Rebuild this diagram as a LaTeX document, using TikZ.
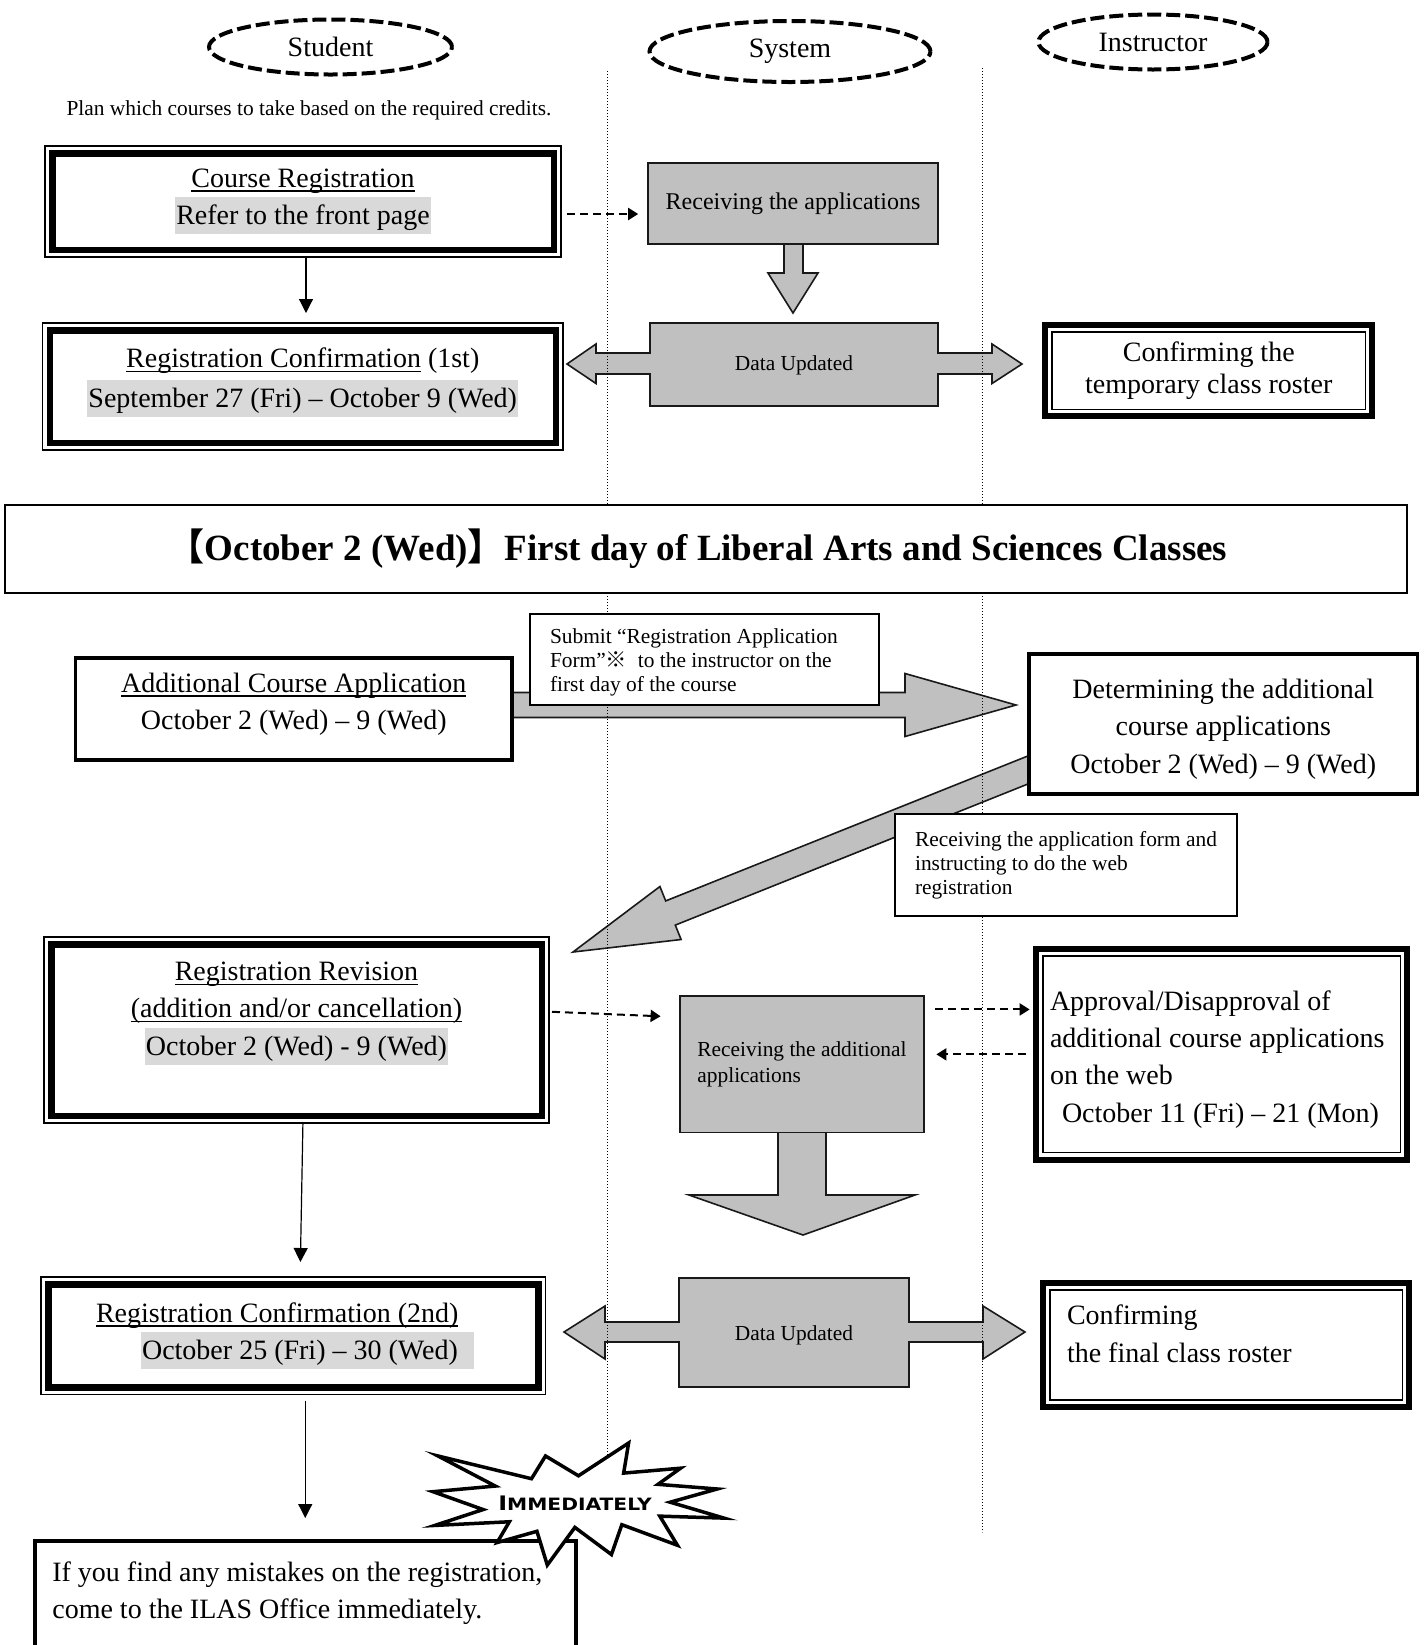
\documentclass[tikz,border=0pt]{standalone}
\usepackage{fontspec}
\setmainfont{Liberation Serif}
\newfontfamily\cjkfont{Noto Sans CJK JP}
\newfontfamily\burstfont{DejaVu Sans}
\usepackage{graphicx}
\usetikzlibrary{shapes.geometric, arrows.meta}

\definecolor{sysgray}{RGB}{192,192,192}
\definecolor{hlgray}{RGB}{217,217,217}

\newcommand{\boxfont}{\fontsize{14}{18.6}\selectfont}
\newcommand{\smallfont}{\fontsize{10.7}{12}\selectfont}
\newcommand{\uln}[1]{\leavevmode\setbox0\hbox{#1}\rlap{\rule[-2.3pt]{\wd0}{0.7pt}}\box0\relax}
\newcommand{\hlbox}[1]{{\setlength{\fboxsep}{0.5pt}\colorbox{hlgray}{\rule[-4.5pt]{0pt}{17.5pt}#1}}}
\newcommand{\deepstrut}[1]{\rule[-#1]{0pt}{0pt}}
\newcommand{\tallstrut}[1]{\rule{0pt}{#1}}
\newcommand{\thinframe}[1]{\draw[line width=0.75pt] ([shift={(-2pt,2pt)}]#1.north west) rectangle ([shift={(2pt,-2pt)}]#1.south east);}
\newcommand{\thickframe}[1]{\draw[line width=3pt] ([shift={(-3.1pt,3.1pt)}]#1.north west) rectangle ([shift={(3.1pt,-3.1pt)}]#1.south east);}

\tikzset{
  lane/.style={line width=0.5pt, dash pattern=on 0.6pt off 0.9pt},
  actor/.style={ellipse, draw, line width=2pt, dash pattern=on 7pt off 2.5pt, font=\boxfont, inner sep=0pt},
  stepthick/.style={rectangle, draw, line width=3.25pt, fill=white, align=center, font=\boxfont, inner sep=2pt},
  stepthin/.style={rectangle, draw, line width=0.75pt, fill=white, align=center, font=\boxfont, inner sep=2pt},
  stepbold/.style={rectangle, draw, line width=1.75pt, fill=white, align=center, font=\boxfont, inner sep=2pt},
  sysbox/.style={rectangle, draw=black!90, line width=0.8pt, fill=sysgray, inner sep=2pt},
  note/.style={rectangle, draw, line width=0.6pt, fill=white, align=left, font=\smallfont},
  blockarrow/.style={draw=black!90, line width=0.8pt, fill=sysgray, line join=miter},
  flow/.style={-{Triangle[width=7pt,length=7pt]}, line width=0.6pt},
  dflow/.style={-{Triangle[width=6pt,length=5pt]}, line width=1pt, dash pattern=on 4pt off 2.5pt}
}

\begin{document}
\begin{tikzpicture}[x=0.5pt, y=-0.5pt]
    %Rahmen
    \path[use as bounding box, fill=white] (0,0) rectangle (1426,1645);

    %Blockpfeile
    \draw[blockarrow] (784,238) -- (784,273) -- (768,273) -- (793,313) -- (818,273) -- (803,273) -- (803,238) -- cycle;
    \draw[blockarrow] (650,323) -- (938,323) -- (938,353) -- (992,353) -- (992,344) -- (1022,364) -- (992,383.5) -- (992,374) -- (938,374) -- (938,406)
        -- (650,406) -- (650,374) -- (596,374) -- (596,383.5) -- (567,364) -- (596,344) -- (596,353) -- (650,353) -- cycle;
    \draw[blockarrow] (505,692.5) -- (905,692.5) -- (905,673.5) -- (1016,705) -- (905,736.5) -- (905,717.5) -- (505,717.5) -- cycle;
    \draw[blockarrow] (1037,752.3) -- (665.7,900.9) -- (659.9,886.5) -- (573,952) -- (681.1,939.5) -- (675.3,925.1) -- (1046.6,776.5) -- cycle;
    \draw[blockarrow] (778,1126) -- (778,1195) -- (689,1195) -- (803,1235) -- (915,1195) -- (826,1195) -- (826,1126) -- cycle;
    \draw[blockarrow] (679,1278) -- (909,1278) -- (909,1322) -- (983,1322) -- (983,1306) -- (1025,1332) -- (983,1359) -- (983,1342) -- (909,1342) -- (909,1387)
        -- (679,1387) -- (679,1342) -- (605,1342) -- (605,1359) -- (564,1332) -- (605,1306) -- (605,1322) -- (679,1322) -- cycle;

    %Bahnen
    \draw[lane] (607.5,71) -- (607.5,1460);
    \draw[lane] (982,68) -- (982,1532);

    %Akteure
    \node[actor, minimum width=121.5pt, minimum height=27.5pt] (student) at (330.5,47) {Student};
    \node[actor, minimum width=140.5pt, minimum height=30.5pt] (system) at (790,51.5) {System};
    \node[actor, minimum width=114.5pt, minimum height=27.5pt] (instructor) at (1153,42) {Instructor};
    \node[font=\smallfont] (plan) at (309,110) {Plan which courses to take based on the required credits.};

    %Student
    \node[stepthick, minimum width=250.75pt, minimum height=48.25pt] (creg) at (303,201.5)
        {\uln{Course Registration}\\\hlbox{Refer to the front page}};
    \thinframe{creg}
    \node[stepthick, minimum width=253pt, minimum height=56.25pt] (conf1) at (302.75,386.5)
        {\uln{Registration Confirmation} (1st)\\[1.4pt]\hlbox{September 27 (Fri) – October 9 (Wed)}\deepstrut{8.9pt}};
    \thinframe{conf1}
    \node[stepbold, minimum width=218.25pt, minimum height=51pt] (addl) at (293.75,709)
        {\uln{Additional Course Application}\\October 2 (Wed) – 9 (Wed)\deepstrut{7.9pt}};
    \node[stepthick, minimum width=245.25pt, minimum height=85.75pt] (rev) at (296.5,1030)
        {\uln{Registration Revision}\\\uln{(addition and/or cancellation)}\\\hlbox{October 2 (Wed) - 9 (Wed)}\deepstrut{21.4pt}};
    \thinframe{rev}
    \node[stepthick, minimum width=245pt, minimum height=51.5pt] (conf2) at (293.25,1335.75)
        {\uln{Registration Confirmation (2nd)}\hspace*{16pt}\null\\\null\hspace*{14.2pt}\hlbox{October 25 (Fri) – 30 (Wed)\hspace*{7.5pt}}};
    \thinframe{conf2}
    \node[rectangle, draw, line width=2pt, fill=white, font=\boxfont, align=flush left, text width=252.9pt, inner xsep=8.9pt,
        minimum width=270.75pt, minimum height=79.5pt] (office) at (305.25,1620.5)
        {If you find any mistakes on the registration,\\come to the ILAS Office immediately.\deepstrut{30pt}};

    %System
    \node[sysbox, font=\fontsize{12}{14}\selectfont, minimum width=145pt, minimum height=40.65pt] (recv) at (793,203.35) {Receiving the applications};
    \node[sysbox, font=\smallfont, align=left, minimum width=122pt, minimum height=68.25pt] (recvadd) at (802,1064.25)
        {Receiving the additional\\[0.8pt]applications};
    \node[font=\smallfont] (upd1) at (794,365) {Data Updated};
    \node[font=\smallfont] (upd2) at (794,1335) {Data Updated};

    %Erster Vorlesungstag
    \node[rectangle, draw, line width=0.75pt, fill=white, minimum width=701pt, minimum height=44pt,
        font=\fontsize{18.5}{22}\selectfont\bfseries] (firstday) at (706,549)
        {{\cjkfont 【}October 2 (Wed){\cjkfont 】}First day of Liberal Arts and Sciences Classes\hspace*{8.4pt}\null};

    %Hinweise
    \node[note, align=flush left, text width=154.5pt, inner xsep=10pt, minimum width=174.5pt, minimum height=45.5pt] (submit) at (704.5,659.5)
        {\tallstrut{10.5pt}Submit “Registration Application\\Form”{\cjkfont ※}\ \ to the instructor on the\\first day of the course};
    \node[note, inner xsep=0pt, minimum width=171pt, minimum height=51pt] (recvform) at (1066,865)
        {Receiving the application form and\\instructing to do the web\\registration};

    %Instructor
    \node[stepthin, minimum width=156.75pt, minimum height=38.75pt] (tmp) at (1208.75,370.75)
        {Confirming the\\[-2.3pt]temporary class roster};
    \thickframe{tmp}
    \node[stepbold, minimum width=194.25pt, minimum height=70pt] (det) at (1223.25,724)
        {\tallstrut{14.8pt}Determining the additional\\course applications\\October 2 (Wed) – 9 (Wed)};
    \node[stepthin, align=flush left, text width=171.75pt, inner xsep=3.5pt, minimum width=178.75pt, minimum height=98.35pt] (appr) at (1221.75,1054.35)
        {\tallstrut{14.9pt}Approval/Disapproval of\\additional course applications\\on the web\\\hspace*{6pt}October 11 (Fri) – 21 (Mon)};
    \thickframe{appr}
    \node[stepthin, align=flush left, text width=159.25pt, inner xsep=8.5pt, minimum width=176.25pt, minimum height=55pt] (fin) at (1226.25,1345)
        {Confirming\\the final class roster\deepstrut{11.4pt}};
    \thickframe{fin}

    %Verbindungen
    \draw[flow, shorten <=2pt, shorten >=7pt] ([xshift=1.5pt]creg.south) -- ([xshift=1.5pt]creg.south |- conf1.north);
    \draw[flow, shorten <=2pt, shorten >=9.5pt] ([xshift=3.25pt]rev.south) -- ([xshift=3.4pt]conf2.north);
    \draw[flow, shorten <=5pt, shorten >=10.5pt] (conf2.south -| office.north) -- (office.north);
    \draw[dflow, shorten <=5pt, shorten >=4.5pt] ([yshift=-6.25pt]creg.east) -- ([yshift=-6.25pt]creg.east -| recv.west);
    \draw[dflow, shorten <=3.5pt, shorten >=9.3pt] ([yshift=9.25pt]rev.east) -- ([yshift=23.6pt]recvadd.west);
    \draw[dflow, shorten <=5pt, shorten >=6.3pt] ([yshift=27.4pt]recvadd.east) -- ([yshift=27.4pt]recvadd.east -| appr.west);
    \draw[dflow, shorten <=8.3pt, shorten >=5.8pt] (appr.west) -- (appr.west -| recvadd.east);

    %Stern
    \begin{scope}[shift={(433,1443)}, xscale=1.347, yscale=0.565]
        \draw[line width=1.75pt, fill=white, line join=miter] (108,58) -- (145.22,0) -- (141.55,53.25) -- (183.8,44.57) -- (167.02,73.15)
            -- (210.97,81.37) -- (176.07,104.75) -- (216,132.9) -- (168.37,129.42) -- (181.45,180.95) -- (140.2,144.57)
            -- (132.47,197.37) -- (105.32,149.35) -- (84.85,216) -- (77.15,156.27) -- (47.62,176.17) -- (56.67,139.37)
            -- (1.35,145.87) -- (37.22,117.75) -- (0,86.15) -- (46.27,76.17) -- (3.7,22.95) -- (73.12,63.2) -- (83.52,22.95) -- cycle;
    \end{scope}
    \node (burst) at (575,1503) {\burstfont\bfseries\scalebox{1.19}[1]{\fontsize{10}{10}\selectfont I\fontsize{8.5}{10}\selectfont MMEDIATELY}};
\end{tikzpicture}
\end{document}
